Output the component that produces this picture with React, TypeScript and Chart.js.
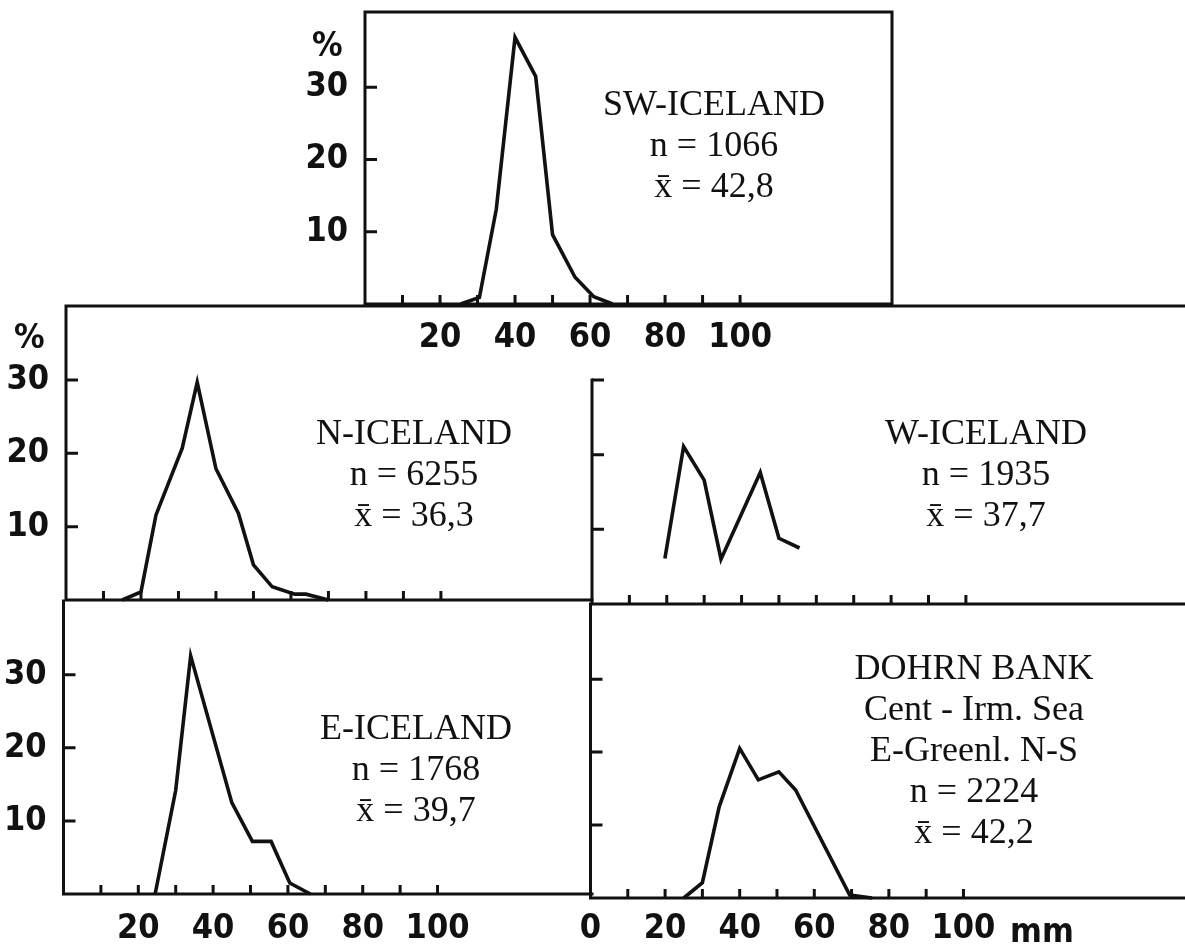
import React, { useEffect, useRef } from 'react';
import { Chart, registerables } from 'chart.js';

Chart.register(...registerables);

// Length (mm) / percentage pairs
const swLength = [25.5, 30.5, 35, 40, 45.5, 50, 56, 61, 66];
const swPercent = [0, 0.9, 13.1, 36.9, 31.5, 9.6, 3.7, 1.0, 0];

const nLength = [15, 20, 24, 31, 35, 40, 46, 50, 55, 61, 64, 70];
const nPercent = [0, 1.1, 11.6, 20.7, 29.7, 17.9, 11.8, 4.8, 1.8, 0.8, 0.8, 0];

const wLength = [19.5, 24.5, 30, 34.5, 45, 50, 55.5];
const wPercent = [6.1, 21.1, 16.6, 6.0, 17.6, 8.8, 7.5];

const eLength = [24.5, 30, 34, 45, 50.5, 55.5, 60.5, 66];
const ePercent = [0, 14.2, 32.6, 12.5, 7.2, 7.2, 1.5, 0];

const dLength = [25, 30, 34.5, 40, 45, 50.5, 55, 69.5, 75.5];
const dPercent = [0, 2.1, 12.5, 20.5, 16.2, 17.3, 14.8, 0.4, 0];

// axis ticks
const lengthTicks = [0, 10, 20, 30, 40, 50, 60, 70, 80, 90, 100];
const lengthMarks = [10, 20, 30, 40, 50, 60, 70, 80, 90, 100];
const lengthLabels = [20, 40, 60, 80, 100];
const lengthLabelsWithZero = [0, 20, 40, 60, 80, 100];
const percentTicks = [10, 20, 30];

const PAGE_W = 1185;
const PAGE_H = 952;
const X_BOX = 50; // height of the x scale box (labels are clipped to it)
const Y_BOX = 60; // width of the y scale box
const INK = '#111';
const DIGITS = "'DejaVu Sans Condensed', 'DejaVu Sans', sans-serif";
const SERIF = "'Liberation Serif', 'Times New Roman', serif";

type Panel = {
    id: string;
    length: number[];
    percent: number[];
    area: { left: number; top: number; right: number; bottom: number };
    xMax: number;
    yMax: number;
    xLabels: number[];
    yLabels: boolean;
    labelPad: number;
    top?: 'area' | 'page';
    right?: boolean;
};

const panels: Panel[] = [
    { id: 'sw', length: swLength, percent: swPercent, area: { left: 365, top: 12, right: 892, bottom: 304 }, xMax: 140.5, yMax: 40.4, xLabels: lengthLabels, yLabels: true, labelPad: 6, top: 'area', right: true },
    { id: 'n', length: nLength, percent: nPercent, area: { left: 66, top: 306, right: 592, bottom: 600 }, xMax: 140.3, yMax: 40.1, xLabels: [], yLabels: true, labelPad: 6, top: 'page' },
    { id: 'w', length: wLength, percent: wPercent, area: { left: 592, top: 380, right: 1185, bottom: 604 }, xMax: 158.6, yMax: 30, xLabels: [], yLabels: false, labelPad: 6 },
    { id: 'e', length: eLength, percent: ePercent, area: { left: 63.5, top: 601, right: 592, bottom: 894 }, xMax: 141.3, yMax: 40.1, xLabels: lengthLabels, yLabels: true, labelPad: 7 },
    { id: 'd', length: dLength, percent: dPercent, area: { left: 590.5, top: 604, right: 1185, bottom: 898 }, xMax: 159.4, yMax: 40.3, xLabels: lengthLabelsWithZero, yLabels: false, labelPad: 3 },
];

const captions = [
    { cx: 714, top: 83, lines: ['SW-ICELAND', 'n = 1066', 'x\u0304 = 42,8'] },
    { cx: 414, top: 412, lines: ['N-ICELAND', 'n = 6255', 'x\u0304 = 36,3'] },
    { cx: 986, top: 412, lines: ['W-ICELAND', 'n = 1935', 'x\u0304 = 37,7'] },
    { cx: 416, top: 707, lines: ['E-ICELAND', 'n = 1768', 'x\u0304 = 39,7'] },
    { cx: 974, top: 647, lines: ['DOHRN BANK', 'Cent - Irm. Sea', 'E-Greenl. N-S', 'n = 2224', 'x\u0304 = 42,2'] },
];

const PanelChart: React.FC<{ panel: Panel }> = ({ panel }) => {
    const canvasRef = useRef<HTMLCanvasElement>(null);

    useEffect(() => {
        const canvas = canvasRef.current;
        if (!canvas) return;
        const a = panel.area;

        // axis lines and inward tick marks, placed through the chart's own scales
        const framePlugin = {
            id: 'frame-' + panel.id,
            afterDraw(chart: any) {
                const { ctx, chartArea: c, scales } = chart;
                ctx.save();
                ctx.strokeStyle = INK;
                ctx.lineWidth = 3;
                ctx.lineCap = 'square';
                ctx.beginPath();
                ctx.moveTo(c.left, c.top);
                ctx.lineTo(c.left, c.bottom);
                ctx.lineTo(c.right, c.bottom);
                if (panel.top) {
                    ctx.moveTo(c.left, c.top);
                    ctx.lineTo(panel.top === 'page' ? chart.width : c.right, c.top);
                }
                if (panel.right) {
                    ctx.moveTo(c.right, c.top);
                    ctx.lineTo(c.right, c.bottom);
                }
                ctx.stroke();
                ctx.lineCap = 'butt';
                ctx.beginPath();
                for (const v of lengthMarks) {
                    const px = scales.x.getPixelForValue(v);
                    ctx.moveTo(px, c.bottom);
                    ctx.lineTo(px, c.bottom - 9);
                }
                for (const v of percentTicks) {
                    const py = scales.y.getPixelForValue(v);
                    ctx.moveTo(c.left, py);
                    ctx.lineTo(c.left + 12, py);
                }
                ctx.stroke();
                ctx.restore();
            },
        };

        const tickFont = { family: DIGITS, size: 34, weight: 'bold' };

        const chart = new Chart(canvas, {
            type: 'line',
            data: {
                datasets: [{
                    data: panel.length.map((x, i) => ({ x, y: panel.percent[i] })),
                    borderColor: INK,
                    borderWidth: 3.6,
                    pointRadius: 0,
                    tension: 0,
                    fill: false,
                    clip: false as any,
                }],
            },
            options: {
                responsive: false,
                animation: false,
                events: [],
                layout: {
                    padding: {
                        left: a.left - Y_BOX,
                        top: a.top,
                        right: PAGE_W - a.right,
                        bottom: PAGE_H - a.bottom - X_BOX,
                    },
                },
                plugins: {
                    legend: { display: false },
                    tooltip: { enabled: false },
                },
                scales: {
                    x: {
                        type: 'linear',
                        min: 0,
                        max: panel.xMax,
                        grid: { display: false },
                        border: { display: false },
                        afterBuildTicks: (s: any) => { s.ticks = lengthTicks.map(value => ({ value })); },
                        afterFit: (s: any) => { s.height = X_BOX; s.paddingLeft = 0; s.paddingRight = 0; },
                        ticks: {
                            display: panel.xLabels.length > 0,
                            autoSkip: false,
                            maxRotation: 0,
                            padding: panel.labelPad,
                            color: INK,
                            font: tickFont,
                            callback: (v: any) => (panel.xLabels.includes(Number(v)) ? String(v) : ''),
                        },
                    },
                    y: {
                        type: 'linear',
                        min: 0,
                        max: panel.yMax,
                        grid: { display: false },
                        border: { display: false },
                        afterBuildTicks: (s: any) => { s.ticks = percentTicks.map(value => ({ value })); },
                        afterFit: (s: any) => { s.width = Y_BOX; s.paddingTop = 0; s.paddingBottom = 0; },
                        ticks: {
                            display: panel.yLabels,
                            autoSkip: false,
                            padding: 9,
                            color: INK,
                            font: tickFont,
                            callback: (v: any) => String(v),
                        },
                    },
                },
            } as any,
            plugins: [framePlugin],
        });

        return () => {
            chart.destroy();
        };
    }, [panel]);

    return (
        <canvas
            ref={canvasRef}
            width={PAGE_W}
            height={PAGE_H}
            style={{ position: 'absolute', left: 0, top: 0, width: PAGE_W, height: PAGE_H }}
        />
    );
};

const App: React.FC = () => {
    return (
        <div style={{ position: 'absolute', left: 0, top: 0, width: PAGE_W, height: PAGE_H, background: '#fff', overflow: 'hidden', color: INK }}>
            {panels.map(p => <PanelChart key={p.id} panel={p} />)}
            {captions.map((c, i) => (
                <div
                    key={i}
                    style={{
                        position: 'absolute',
                        left: c.cx - 200,
                        top: c.top,
                        width: 400,
                        textAlign: 'center',
                        fontFamily: SERIF,
                        fontSize: 36,
                        lineHeight: '41px',
                        whiteSpace: 'pre',
                    }}
                >
                    {c.lines.map((l, j) => <div key={j}>{l}</div>)}
                </div>
            ))}
            <div style={{ position: 'absolute', left: 312, top: 27, fontFamily: DIGITS, fontWeight: 'bold', fontSize: 34, lineHeight: '34px' }}>%</div>
            <div style={{ position: 'absolute', left: 14, top: 319, fontFamily: DIGITS, fontWeight: 'bold', fontSize: 34, lineHeight: '34px' }}>%</div>
            <div style={{ position: 'absolute', left: 1010, top: 913, fontFamily: DIGITS, fontWeight: 'bold', fontSize: 34, lineHeight: '34px' }}>mm</div>
        </div>
    );
};

export default App;
